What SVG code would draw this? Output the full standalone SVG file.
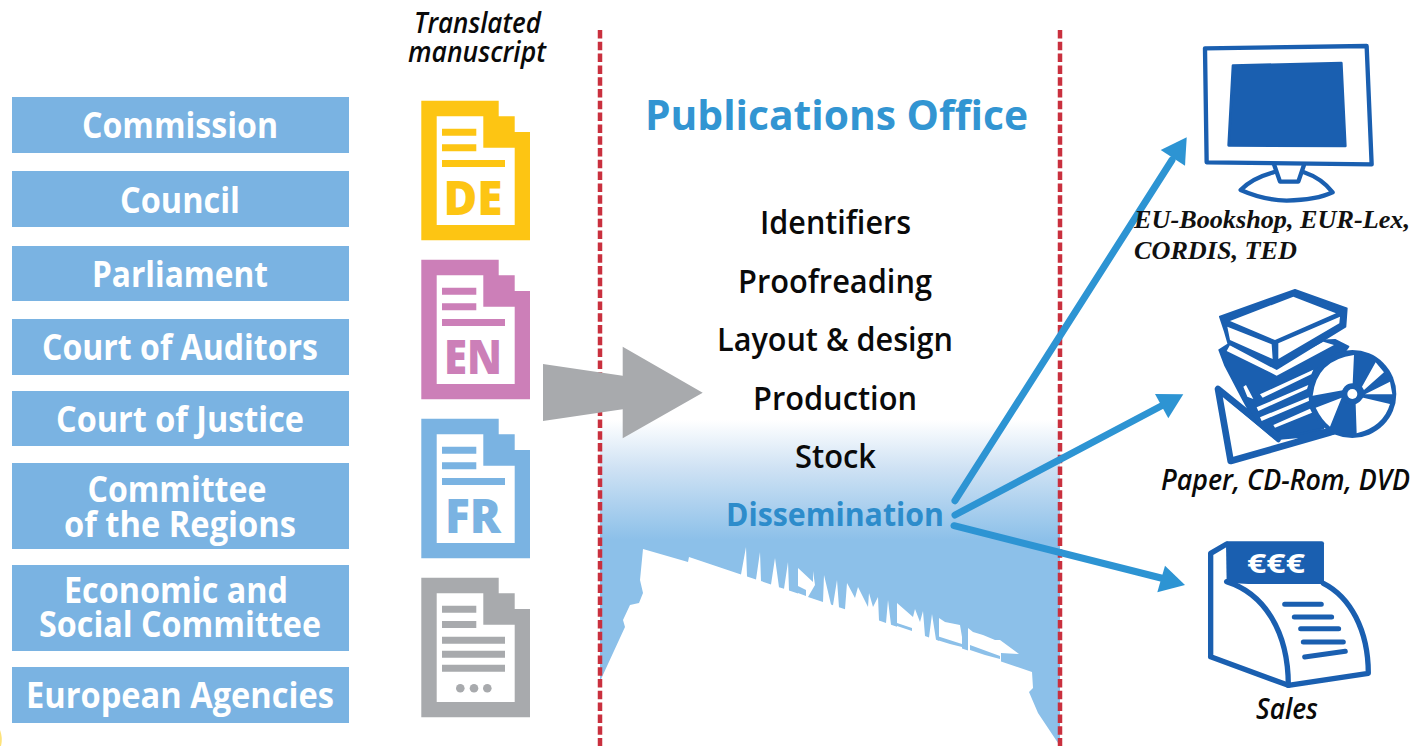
<svg xmlns="http://www.w3.org/2000/svg" xmlns:xlink="http://www.w3.org/1999/xlink" width="1416" height="746" viewBox="0 0 1416 746">
<style>
.box{fill:#7ab3e2}
.bt{font:700 35px "Open Sans","Liberation Sans",sans-serif;fill:#fff;text-anchor:middle}
.st{font:600 32px "Open Sans","Liberation Sans",sans-serif;fill:#0a0a0a}
.cap{font:italic 600 28px "Open Sans","Liberation Sans",sans-serif;fill:#0a0a0a}
.ser{font:italic 700 26px "Liberation Serif",serif;fill:#111}
.dt{font:800 47px "Open Sans","Liberation Sans",sans-serif;text-anchor:middle}
.sep{stroke:#c9303e;stroke-width:4.5;stroke-dasharray:8.5 3.3;fill:none}
.ar{stroke:#2d94d3;stroke-width:7;stroke-linecap:round;fill:none}
.ah{fill:#2d94d3}
.ic{fill:#1a5fb0}
.il{fill:none;stroke:#1a5fb0;stroke-linecap:round;stroke-linejoin:round}
.w{fill:#fff}
.bl{fill:#8cc0e9}
</style>
<defs>
<linearGradient id="fade" x1="0" y1="0" x2="0" y2="1">
<stop offset="0" stop-color="#fff"/><stop offset="0.4" stop-color="#cfe2f4"/><stop offset="1" stop-color="#8cc0e9"/>
</linearGradient>
<path id="doc" fill-rule="evenodd" d="M421.3 100.7H498.7V116.3H514.7V132H530V240.3H421.3ZM436.7 116.3V225H514.7V147.7H483.3V116.3Z"/>
</defs>
<rect width="1416" height="746" fill="#fff"/>
<path d="M0 730Q3 738 1 746H0Z" fill="#fde27a"/>

<g id="backdrop">
<rect x="600" y="420" width="460" height="120" fill="url(#fade)"/>
<path class="bl" d="M600 540H1060V746H600Z"/>
<path class="w" d="M600 746V682L602 677L625 627L623 620L630 605L639 603L643 593L640 580L643 549L688 562L689 557
L741 574.4L746 547L747 576.4L756 579.4L760 552L761 581.1L771 584.5L775 558L779 587.2L784 588.8L788 562L789 590.5L798 593.5L798 568L813 582L813 571L815 585L808 597L823 601.9L824 575L831 604.6L833 605.2L837 580L839 607.3L845 609.3L847 583L855 598L858 587L868 607L869 593L873 607L878 597L879 620.6L886 623L888 600L891 624.7L897 626.7L897 603L913 617L915 609L920 622L923 611L925 636L929 637.4L932 614L936 639.7L939 640.8L939 618L945 622L960 625L962 637L962 648.5L968 650.5L968 628L973 632L983 635L995 640L1000 640L1019 654L1001 653L1001 661.5L1032 672L1033 688L1029 692L1038 713L1060 746Z"/>
<path class="bl" d="M798 586L806 590L806 596L798 593ZM897 623L912 628V631L897 626ZM937 636L962 644V647L950 644L937 640ZM970 645L1000 656V659L985 655L970 650Z"/>
</g>

<g id="separators">
<line class="sep" x1="600" y1="30" x2="600" y2="746"/>
<line class="sep" x1="1060" y1="30" x2="1060" y2="746"/>
</g>

<g id="left-boxes">
<g id="n-commission"><rect class="box" x="12" y="97" width="337" height="56"/><text class="bt" x="180" y="138" textLength="196" lengthAdjust="spacingAndGlyphs">Commission</text></g>
<g id="n-council"><rect class="box" x="12" y="171" width="337" height="56"/><text class="bt" x="180" y="213" textLength="120" lengthAdjust="spacingAndGlyphs">Council</text></g>
<g id="n-parliament"><rect class="box" x="12" y="246" width="337" height="55"/><text class="bt" x="180" y="287" textLength="176" lengthAdjust="spacingAndGlyphs">Parliament</text></g>
<g id="n-auditors"><rect class="box" x="12" y="319" width="337" height="56"/><text class="bt" x="180" y="360" textLength="276" lengthAdjust="spacingAndGlyphs">Court of Auditors</text></g>
<g id="n-justice"><rect class="box" x="12" y="391" width="337" height="55"/><text class="bt" x="180" y="432" textLength="248" lengthAdjust="spacingAndGlyphs">Court of Justice</text></g>
<g id="n-regions"><rect class="box" x="12" y="463" width="337" height="86"/><text class="bt" x="177" y="502" textLength="179" lengthAdjust="spacingAndGlyphs">Committee</text><text class="bt" x="180" y="537" textLength="232" lengthAdjust="spacingAndGlyphs">of the Regions</text></g>
<g id="n-economic"><rect class="box" x="12" y="565" width="337" height="86"/><text class="bt" x="176" y="603" textLength="224" lengthAdjust="spacingAndGlyphs">Economic and</text><text class="bt" x="180" y="637" textLength="282" lengthAdjust="spacingAndGlyphs">Social Committee</text></g>
<g id="n-agencies"><rect class="box" x="12" y="667" width="337" height="56"/><text class="bt" x="180" y="708" textLength="308" lengthAdjust="spacingAndGlyphs">European Agencies</text></g>
</g>

<g id="n-translated"><text class="cap" x="414" y="33" textLength="127" lengthAdjust="spacingAndGlyphs">Translated</text><text class="cap" x="408" y="62" textLength="138" lengthAdjust="spacingAndGlyphs">manuscript</text></g>

<g id="n-doc-de" fill="#fdc513"><use xlink:href="#doc" href="#doc"/><path d="M442 128.7h34.3v7H442ZM442 144.3h34.3v7H442ZM442 160h63v7H442Z"/><text class="dt" x="473" y="215" textLength="59" lengthAdjust="spacingAndGlyphs">DE</text></g>
<g id="n-doc-en" fill="#cc7fb8"><use xlink:href="#doc" href="#doc" y="159"/><path d="M442 287.7h34.3v7H442ZM442 303.3h34.3v7H442ZM442 319h63v7H442Z"/><text class="dt" x="473" y="374" textLength="58" lengthAdjust="spacingAndGlyphs">EN</text></g>
<g id="n-doc-fr" fill="#7ab3e2"><use xlink:href="#doc" href="#doc" y="318"/><path d="M442 446.7h34.3v7H442ZM442 462.3h34.3v7H442ZM442 478h63v7H442Z"/><text class="dt" x="473" y="533" textLength="56" lengthAdjust="spacingAndGlyphs">FR</text></g>
<g id="n-doc-other" fill="#a8aaad"><use xlink:href="#doc" href="#doc" y="477"/><path d="M442 605.7h34.3v7H442ZM442 621h34.3v7H442ZM442 636.7h63v7H442ZM442 650.7h63v7H442ZM442 664.7h63v7H442Z"/><circle cx="460.3" cy="688.3" r="4.3"/><circle cx="474" cy="688.3" r="4.3"/><circle cx="487.3" cy="688.3" r="4.3"/></g>

<g id="connectors">
<polygon id="c-big" fill="#a8aaad" points="543,364 622.7,375.7 622.7,346.7 702.7,392.7 622.7,438.3 622.7,409.3 543,421"/>
<g id="c-web"><line class="ar" x1="955" y1="500.7" x2="1172" y2="160"/><polygon class="ah" points="1186.7,137.3 1160.7,150 1185,165.7"/></g>
<g id="c-paper"><line class="ar" x1="955" y1="515" x2="1165" y2="404"/><polygon class="ah" points="1183.3,394.3 1155,394 1168.3,418.3"/></g>
<g id="c-sales"><line class="ar" x1="954" y1="525.7" x2="1165" y2="579"/><polygon class="ah" points="1185,585 1165,565.7 1157.3,592.3"/></g>
</g>

<g id="n-office">
<text x="645" y="130" textLength="383" lengthAdjust="spacingAndGlyphs" style="font:700 41px 'Open Sans','Liberation Sans',sans-serif;fill:#3295d2">Publications Office</text>
<text class="st" x="760" y="234" textLength="151" lengthAdjust="spacingAndGlyphs">Identifiers</text>
<text class="st" x="738" y="293" textLength="194" lengthAdjust="spacingAndGlyphs">Proofreading</text>
<text class="st" x="717" y="351" textLength="236" lengthAdjust="spacingAndGlyphs">Layout &amp; design</text>
<text class="st" x="753" y="410" textLength="164" lengthAdjust="spacingAndGlyphs">Production</text>
<text class="st" x="795" y="468" textLength="81" lengthAdjust="spacingAndGlyphs">Stock</text>
<text x="726" y="526" textLength="218" lengthAdjust="spacingAndGlyphs" style="font:700 32px 'Open Sans','Liberation Sans',sans-serif;fill:#2d8ccb">Dissemination</text>
</g>

<g id="n-monitor">
<g transform="translate(1130 30) scale(.3333)">
<path class="il" stroke-width="13" d="M225 55L710 48L725 403L230 397Z"/>
<path class="ic" stroke="#1a5fb0" stroke-width="8" stroke-linejoin="round" d="M309 107L634 99L646 348L296 346Z"/>
<path class="il" stroke-width="13" d="M432 403L450 455H505L522 405"/>
<path class="il" stroke-width="13" d="M430 427Q365 445 332 480Q400 510 470 512Q560 510 608 487Q575 445 522 427"/>
</g>
<text class="ser" x="1134" y="228" textLength="276" lengthAdjust="spacingAndGlyphs">EU-Bookshop, EUR-Lex,</text>
<text class="ser" x="1134" y="259" textLength="163" lengthAdjust="spacingAndGlyphs">CORDIS, TED</text>
</g>

<g id="n-media">
<g transform="translate(1210 285) scale(.3333)">
<path class="w" stroke="#1a5fb0" stroke-width="20" stroke-linejoin="round" d="M24 312L62 528L370 440L200 455Z"/>
<path class="il" stroke-width="14" d="M24 312L205 465"/>
<path class="ic" stroke="#1a5fb0" stroke-width="6" stroke-linejoin="round" d="M28 195L55 178L375 165L415 185L330 300L340 430L205 462L130 400L100 345L45 240Z"/>
<path class="w" d="M50 198L200 272L372 180L340 170L200 245L60 180ZM150 328L310 254L304 268L158 338ZM140 367L295 300L291 312L145 378ZM150 397L300 335L298 347L155 408ZM190 420L300 371L306 383L195 428ZM62 312L80 330L72 312ZM100 305L112 335L130 342L108 300Z"/>
<path class="ic" stroke="#1a5fb0" stroke-width="6" stroke-linejoin="round" d="M30 95L255 15L410 70L406 125L200 252L55 175L45 140Z"/>
<path class="w" d="M60 108L250 35L378 85L195 165ZM52 125L185 178L188 222L60 165ZM205 175L390 95L388 115L205 222Z"/>
<circle class="ic" cx="427" cy="327" r="132"/>
<path class="w" d="M398 316L308 332Q320 225 432 210L428 298ZM456 305L497 232L522 262L462 315ZM465 328L540 290L547 328ZM460 338L540 357Q520 425 440 445L437 356ZM395 338L317 368Q335 405 360 425Z"/>
<circle class="ic" cx="427" cy="327" r="32"/><circle class="w" cx="427" cy="327" r="15"/>
</g>
<text class="cap" x="1161" y="490" textLength="249" lengthAdjust="spacingAndGlyphs">Paper, CD-Rom, DVD</text>
</g>

<g id="n-sales">
<g transform="translate(1130 530) scale(.3333)">
<path class="w" d="M242 70L290 42L575 40V160Q700 220 715 430L475 466L242 380Z"/>
<path class="il" stroke-width="16" d="M242 380V70L290 42M580 160C660 200 715 300 715 430L475 466L242 380"/>
<path class="il" stroke-width="16" d="M290 155C400 190 475 300 475 466"/>
<path class="ic" d="M288 38Q288 34 295 34H575Q582 34 582 40V162H355L290 158Z"/>
<path class="il" stroke-width="15" d="M464 223H574M493 261H605M512 296H626M520 336H640M524 381L646 364"/>
</g>
<text x="1276" y="573" textLength="58" lengthAdjust="spacingAndGlyphs" text-anchor="middle" style="font:700 26px 'Open Sans','Liberation Sans',sans-serif;fill:#fff">€€€</text>
<text class="cap" x="1256" y="719" textLength="62" lengthAdjust="spacingAndGlyphs">Sales</text>
</g>
</svg>
